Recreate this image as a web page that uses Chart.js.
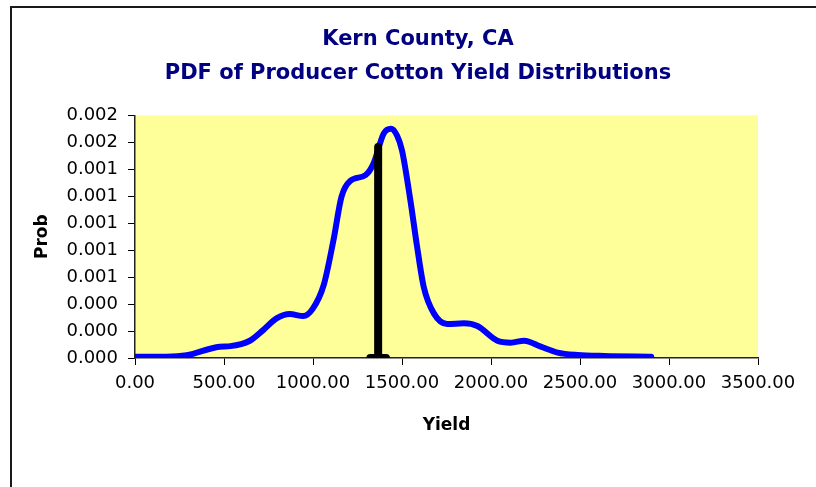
<!DOCTYPE html>
<html>
<head>
<meta charset="utf-8">
<script src="https://cdn.jsdelivr.net/npm/chart.js@4.4.1/dist/chart.umd.min.js"></script>
<style>
  html, body { margin: 0; padding: 0; background: #fff; }
  #wrap { position: relative; width: 816px; height: 487px; overflow: hidden; }
  #frame { position: absolute; left: 10px; top: 6px; width: 900px; height: 600px;
           border-left: 2px solid #1a1a1a; border-top: 2px solid #1a1a1a; }
  canvas { position: absolute; left: 0; top: 0; }
</style>
</head>
<body>
<div id="wrap">
  <div id="frame"></div>
  <canvas id="pdf" width="816" height="487"></canvas>
</div>
<script>
/* Kern County cotton yield PDF */

var titleLines = ['Kern County, CA', 'PDF of Producer Cotton Yield Distributions'];

// smoothed density
var yieldX = [0, 175, 290, 475, 535, 645, 720, 795, 870, 945, 1000, 1060, 1115, 1160, 1210, 1295,
  1340, 1397, 1438, 1472, 1500, 1547, 1585, 1622, 1679, 1754, 1848, 1923, 2036, 2111, 2186,
  2280, 2374, 2487, 2637, 2900];
var prob = [0.00001, 0.00001, 0.00002, 0.000084, 0.000088, 0.000128, 0.000207, 0.000294, 0.000326,
  0.000311, 0.000368, 0.00054, 0.000874, 0.001195, 0.001314, 0.001356, 0.001442, 0.001664, 0.0017,
  0.00165, 0.00154, 0.00117, 0.000824, 0.000528, 0.000331, 0.000252, 0.000257, 0.000237, 0.000128,
  0.000114, 0.000128, 0.000084, 0.00004, 0.000022, 0.000015, 0.00001];

// mean marker (vertical bar) and its foot
var meanX = [1366, 1366];
var meanY = [0, 0.001565];
var footX = [1322, 1410];
var footY = [0, 0];

var xMin = 0, xMax = 3500, xStep = 500;
var yMin = 0, yMax = 0.0018, yStep = 0.0002;

function pts(xs, ys) {
  var out = [];
  for (var i = 0; i < xs.length; i++) out.push({ x: xs[i], y: ys[i] });
  return out;
}

var plotBg = {
  id: 'plotBg',
  beforeDraw: function (chart) {
    var a = chart.chartArea, ctx = chart.ctx;
    ctx.save();
    ctx.fillStyle = '#ffff99';
    ctx.fillRect(a.left, a.top, a.right - a.left, a.bottom - a.top);
    ctx.restore();
  }
};

var font = 'DejaVu Sans';

new Chart(document.getElementById('pdf'), {
  type: 'line',
  data: {
    datasets: [
      { data: pts(meanX, meanY), borderColor: '#000', borderWidth: 8, borderCapStyle: 'round',
        pointRadius: 0, clip: 0 },
      { data: pts(footX, footY), borderColor: '#000', borderWidth: 8, borderCapStyle: 'round',
        pointRadius: 0, clip: 0 },
      { data: pts(yieldX, prob), borderColor: '#0000ff', borderWidth: 6, borderCapStyle: 'round',
        borderJoinStyle: 'round', cubicInterpolationMode: 'monotone', pointRadius: 0, clip: 0 }
    ]
  },
  options: {
    responsive: false, animation: false,
    layout: { padding: { left: 20, right: 0, top: 0, bottom: 47 } },
    plugins: {
      legend: { display: false },
      tooltip: { enabled: false },
      title: { display: true, text: titleLines, color: '#000080',
        font: { family: font, size: 21, weight: 'bold', lineHeight: 1.65 },
        padding: { top: 22, bottom: 24 } }
    },
    scales: {
      x: {
        type: 'linear', min: xMin, max: xMax,
        afterFit: function (s) { s.height = 82; },
        afterBuildTicks: function (s) {
          s.ticks = [];
          for (var v = xMin; v <= xMax; v += xStep) s.ticks.push({ value: v });
        },
        grid: { drawOnChartArea: false, tickLength: 7, tickColor: '#000' },
        border: { color: '#222', width: 1.5 },
        ticks: { color: '#000', padding: 8, maxRotation: 0, font: { family: font, size: 18 },
          callback: function (v) { return v.toFixed(2); } },
        title: { display: true, text: 'Yield', color: '#000', font: { family: font, size: 17, weight: 'bold' } }
      },
      y: {
        min: yMin, max: yMax,
        afterFit: function (s) { s.width = 115; },
        afterBuildTicks: function (s) {
          s.ticks = [];
          for (var i = 0; i <= 9; i++) s.ticks.push({ value: yMin + i * yStep });
        },
        grid: { drawOnChartArea: false, tickLength: 7, tickColor: '#000' },
        border: { color: '#222', width: 1.5 },
        ticks: { color: '#000', padding: 10, font: { family: font, size: 18 },
          callback: function (v) { return v.toFixed(3); } },
        title: { display: true, text: 'Prob', color: '#000', padding: { top: 12, bottom: 4 },
          font: { family: font, size: 17, weight: 'bold' } }
      },
      // empty right margin so the title centres on the whole frame
      yPad: {
        position: 'right', min: yMin, max: yMax,
        afterFit: function (s) { s.width = 58; },
        grid: { display: false }, border: { display: false }, ticks: { display: false }
      }
    }
  },
  plugins: [plotBg]
});
</script>
</body>
</html>
